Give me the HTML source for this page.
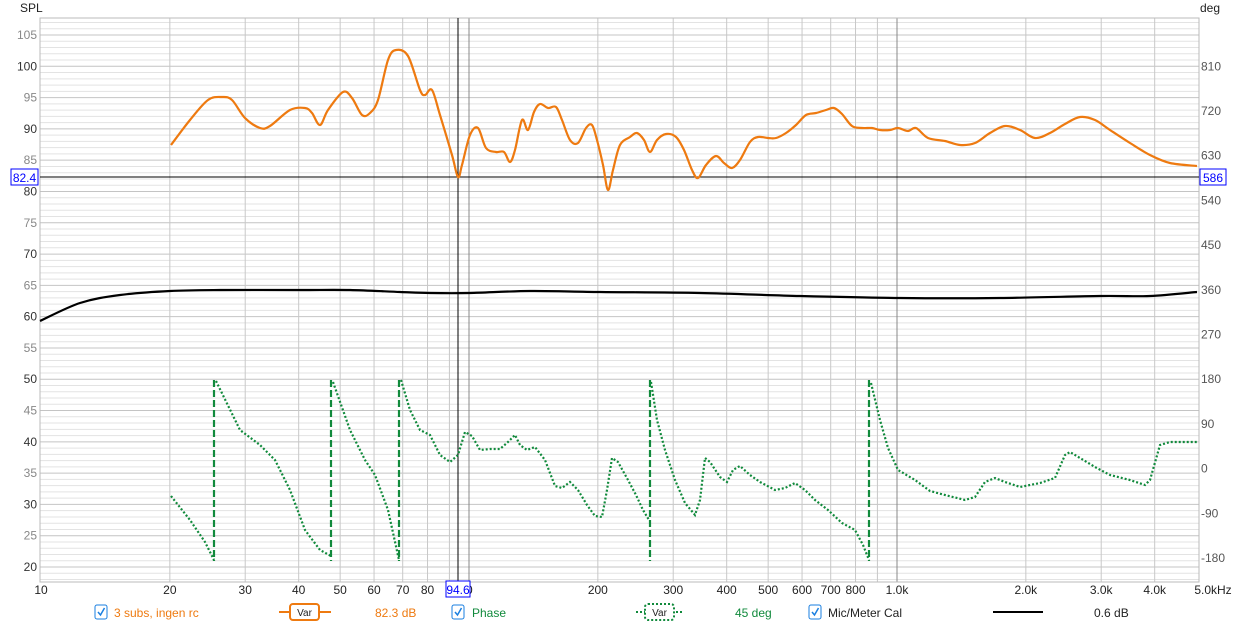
<!DOCTYPE html>
<html><head><meta charset="utf-8"><style>
body{margin:0;background:#fff;width:1249px;height:628px;overflow:hidden}
svg{display:block;font-family:"Liberation Sans",sans-serif}
</style></head><body>
<svg id="s" width="1249" height="628" xmlns="http://www.w3.org/2000/svg">
<rect width="1249" height="628" fill="#fff"/>
<g id="grid"></g>
<line x1="458" y1="18" x2="458" y2="582" stroke="#000" stroke-width="1"/>
<line x1="40" y1="177" x2="1199" y2="177" stroke="#000" stroke-width="1"/>
<polyline class="sm" fill="none" stroke="#000" stroke-width="2.2" points="40,321 80,303 120,295 170,291 220,290 300,290 350,290 400,292 430,293 470,293 530,291 600,292 700,293 800,296 900,298 1000,298 1100,296 1150,296 1197,292"/>
<polyline class="sm" fill="none" stroke="#ee7a10" stroke-width="2.2" stroke-linejoin="round" points="171,145 190,120 208,100 222,97 232,100 245,118 260,128 270,126 290,110 305,108 312,113 320,125 328,110 343,92 352,98 362,115 370,113 378,100 388,60 396,50 408,56 420,90 425,95 432,90 440,115 452,155 458,177 462,165 470,135 478,128 486,148 496,152 504,152 510,162 515,150 522,120 528,130 534,112 540,104 548,108 556,107 562,120 570,140 578,143 586,128 592,125 597,140 603,165 608,190 613,170 620,145 630,137 637,133 644,140 650,152 657,140 666,134 676,137 684,150 692,170 698,178 706,165 716,156 724,163 732,168 740,160 750,142 758,137 768,138 776,138 786,133 796,125 806,115 816,113 826,110 834,108 842,114 852,126 862,128 872,128 880,130 890,130 898,128 908,131 916,128 928,138 945,141 960,145 975,143 990,133 1005,126 1020,130 1035,138 1050,133 1065,124 1080,117 1095,120 1110,130 1130,143 1150,155 1170,163 1197,166"/>
<g fill="none" stroke="#118a3c" stroke-width="2.2" stroke-dasharray="2,2">
<polyline points="171,496 190,520 205,542 214,560"/>
<polyline points="216,381 240,430 260,445 275,460 290,490 305,530 320,550 331,556"/>
<polyline points="333,382 350,430 365,460 375,475 388,510 399,560"/>
<polyline points="401,380 410,410 420,430 430,435 440,455 450,462 458,455 465,432 472,436 480,450 490,449 500,449 508,442 515,435 520,445 527,450 535,447 545,460 555,486 562,488 570,482 578,490 587,505 595,516 602,517 607,490 612,458 618,462 628,480 636,495 643,510 649,520"/>
<polyline points="651,382 657,420 665,450 675,480 685,503 695,515 700,500 705,458 710,462 720,477 727,482 733,470 740,466 750,475 760,482 775,490 785,488 795,483 805,490 815,500 828,510 842,523 855,530 863,545 869,560"/>
<polyline points="871,383 880,420 888,448 898,470 915,480 930,491 945,495 965,500 975,497 985,482 995,478 1005,482 1020,487 1040,483 1055,478 1065,455 1070,452 1080,458 1095,467 1110,475 1130,480 1145,485 1150,480 1160,445 1170,442 1197,442"/>
</g>
<g stroke="#118a3c" stroke-width="2.2" stroke-dasharray="7,3">
<line x1="214" y1="380" x2="214" y2="561"/><line x1="331" y1="380" x2="331" y2="561"/>
<line x1="399" y1="380" x2="399" y2="561"/><line x1="650" y1="380" x2="650" y2="561"/>
<line x1="869" y1="380" x2="869" y2="561"/>
</g>
<g id="lbl" font-size="12"></g>
<text x="20" y="12" font-size="12" fill="#222">SPL</text>
<text x="1200" y="12" font-size="12" fill="#222">deg</text>
<rect x="11" y="169" width="27" height="16" fill="#fff" stroke="#00f"/>
<text x="24.5" y="182" font-size="12" fill="#00f" text-anchor="middle">82.4</text>
<rect x="1200" y="169" width="26" height="16" fill="#fff" stroke="#00f"/>
<text x="1213" y="182" font-size="12" fill="#00f" text-anchor="middle">586</text>
<g font-size="12">
<rect x="95" y="605" width="12" height="14" rx="2" fill="#fff" stroke="#1a7fe0"/>
<path d="M98,612 l2.5,3 l4,-7" stroke="#1a7fe0" fill="none" stroke-width="1.5"/>
<text x="114" y="617" fill="#ee7a10">3 subs, ingen rc</text>
<line x1="279" y1="612" x2="331" y2="612" stroke="#ee7a10" stroke-width="2"/>
<rect x="290" y="604" width="29" height="16" rx="3" fill="#fff" stroke="#ee7a10" stroke-width="2"/>
<text x="304.5" y="616" font-size="10" fill="#222" text-anchor="middle">Var</text>
<text x="375" y="617" fill="#ee7a10">82.3 dB</text>
<rect x="452" y="605" width="12" height="14" rx="2" fill="#fff" stroke="#1a7fe0"/>
<path d="M455,612 l2.5,3 l4,-7" stroke="#1a7fe0" fill="none" stroke-width="1.5"/>
<text x="472" y="617" fill="#118a3c">Phase</text>
<line x1="636" y1="612" x2="684" y2="612" stroke="#118a3c" stroke-width="2" stroke-dasharray="2,2"/>
<rect x="645" y="604" width="29" height="16" rx="3" fill="#fff" stroke="#118a3c" stroke-width="2" stroke-dasharray="2,2"/>
<text x="659.5" y="616" font-size="10" fill="#222" text-anchor="middle">Var</text>
<text x="735" y="617" fill="#118a3c">45 deg</text>
<rect x="809" y="605" width="12" height="14" rx="2" fill="#fff" stroke="#1a7fe0"/>
<path d="M812,612 l2.5,3 l4,-7" stroke="#1a7fe0" fill="none" stroke-width="1.5"/>
<text x="828" y="617" fill="#222">Mic/Meter Cal</text>
<line x1="993" y1="612" x2="1043" y2="612" stroke="#000" stroke-width="2"/>
<text x="1094" y="617" fill="#222">0.6 dB</text>
</g>
</svg>
<script>
var g=document.getElementById('grid'),L=document.getElementById('lbl'),ns='http://www.w3.org/2000/svg';
function el(p,t,a,txt){var e=document.createElementNS(ns,t);for(var k in a)e.setAttribute(k,a[k]);if(txt!=null)e.textContent=txt;p.appendChild(e);return e;}
function Y(v){return 35+(105-v)*6.259;}
function X(f){return 41+Math.log10(f/10)*428;}
for(var v=18;v<=107;v++){var y=Y(v);el(g,'line',{x1:40,x2:1199,y1:y,y2:y,stroke:v%5==0?'#c4c4c4':'#e3e3e3','stroke-width':1});}
var fs=[20,30,40,50,60,70,80,90,100,200,300,400,500,600,700,800,900,1000,2000,3000,4000];
fs.forEach(function(f){var x=X(f);el(g,'line',{x1:x,x2:x,y1:18,y2:582,stroke:(f==100||f==1000)?'#888':'#c8c8c8','stroke-width':1});});
el(g,'rect',{x:40,y:18,width:1159,height:564,fill:'none',stroke:'#bbb'});
for(var v=20;v<=105;v+=5){el(L,'text',{x:37,y:Y(v)+4,'text-anchor':'end',fill:v%10==0?'#333':'#888'},v);}
for(var d=-180;d<=810;d+=90){var y=Y(50+(d-180)/12.6);el(L,'text',{x:1201,y:y+4,fill:'#555'},(d<0?'-':'')+Math.abs(d));}
var xl=[[10,'10'],[20,'20'],[30,'30'],[40,'40'],[50,'50'],[60,'60'],[70,'70'],[80,'80'],[200,'200'],[300,'300'],[400,'400'],[500,'500'],[600,'600'],[700,'700'],[800,'800'],[1000,'1.0k'],[2000,'2.0k'],[3000,'3.0k'],[4000,'4.0k']];
xl.forEach(function(a){el(L,'text',{x:X(a[0]),y:594,'text-anchor':'middle',fill:'#222'},a[1]);});
el(L,'text',{x:X(100)-3,y:594,fill:'#222'},'0');
el(L,'text',{x:1213,y:594,'text-anchor':'middle',fill:'#222'},'5.0kHz');
el(L,'rect',{x:446,y:581,width:24,height:16,fill:'#fff',stroke:'#00f'});
el(L,'text',{x:458,y:594,'text-anchor':'middle',fill:'#00f'},'94.6');
document.querySelectorAll('polyline.sm').forEach(function(pl){
 var p=pl.getAttribute('points').trim().split(/\s+/).map(function(s){return s.split(',').map(Number);});
 var d='M'+p[0][0]+','+p[0][1];
 for(var i=0;i<p.length-1;i++){var p0=p[Math.max(0,i-1)],p1=p[i],p2=p[i+1],p3=p[Math.min(p.length-1,i+2)];
  d+=' C'+(p1[0]+(p2[0]-p0[0])/6)+','+(p1[1]+(p2[1]-p0[1])/6)+' '+(p2[0]-(p3[0]-p1[0])/6)+','+(p2[1]-(p3[1]-p1[1])/6)+' '+p2[0]+','+p2[1];}
 var path=el(pl.parentNode,'path',{d:d,fill:'none',stroke:pl.getAttribute('stroke'),'stroke-width':2.2,'stroke-linejoin':'round'});
 pl.parentNode.insertBefore(path,pl);pl.remove();
});
</script>
</body></html>
